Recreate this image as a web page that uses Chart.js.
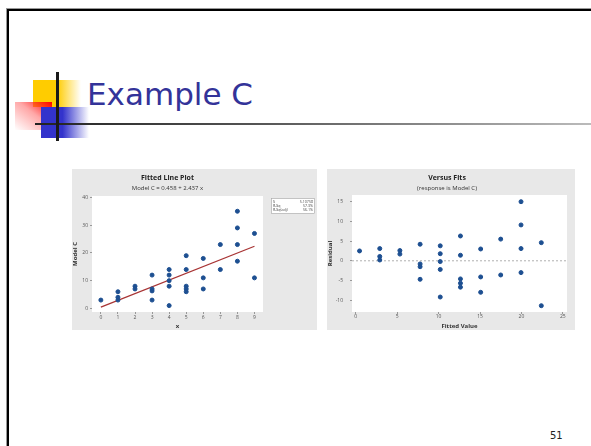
<!DOCTYPE html>
<html>
<head>
<meta charset="utf-8">
<script src="https://cdn.jsdelivr.net/npm/chart.js@4"></script>
<style>
  body { margin: 0; width: 591px; height: 446px; background: #fff; position: relative; overflow: hidden; }
  .frame { position: absolute; left: 7px; top: 9px; width: 700px; height: 600px;
           border-left: 2px solid #000; border-top: 2px solid #000;
           box-shadow: -1px -1px 0 #999; }
  .yellow { position: absolute; left: 33px; top: 80px; width: 48px; height: 27px;
            background: linear-gradient(to right, #ffcc00 0%, #ffcc00 50%, rgba(255,204,0,0) 100%); }
  .red { position: absolute; left: 15px; top: 102px; width: 37px; height: 28px;
         background: linear-gradient(to bottom left, #ff0000 0%, rgba(255,80,80,0.5) 45%, rgba(255,255,255,0) 100%); }
  .blue { position: absolute; left: 41px; top: 107px; width: 48px; height: 31px;
          background: linear-gradient(to right, #3333cc 0%, #3333cc 45%, rgba(51,51,204,0) 100%); }
  .vbar { position: absolute; left: 56px; top: 72px; width: 3px; height: 69px; background: #1a1a1a; }
  .rule { position: absolute; left: 35px; top: 123px; width: 556px; height: 2px;
          background: linear-gradient(to right, #222 0%, #555 40%, #bbb 100%); }
  .title { position: absolute; left: 87px; top: 76px; font-family: "DejaVu Sans", sans-serif;
           font-size: 31px; color: #333399; white-space: nowrap; }
  .pagenum { position: absolute; left: 550px; top: 430px; font-family: "DejaVu Sans", sans-serif;
             font-size: 10px; color: #222; }
  canvas { position: absolute; background: #e8e8e8; }
</style>
</head>
<body>
<div class="frame"></div>
<div class="yellow"></div>
<div class="red"></div>
<div class="blue"></div>
<div class="rule"></div>
<div class="vbar"></div>
<div class="title">Example C</div>
<div class="pagenum">51</div>

<canvas id="fitPlot" width="245" height="161" style="left:72px; top:169px;"></canvas>
<canvas id="residPlot" width="248" height="161" style="left:327px; top:169px;"></canvas>

<script>
// data
const xValues =      [0, 1, 1, 1, 2, 2, 3, 3, 3, 3, 4, 4, 4, 4, 4, 5, 5, 5, 5, 5, 6, 6, 6, 7, 7, 8, 8, 8, 8, 9, 9];
const modelCValues = [3, 6, 4, 3, 8, 7, 12, 7, 6.3, 3, 14, 12, 10, 8, 1, 19, 14, 8, 7, 6, 18, 11, 7, 23, 14, 35, 29, 23, 17, 27, 11];

const fittedValues = [0.46, 2.9, 2.9, 2.9, 5.33, 5.33, 7.77, 7.77, 7.77, 7.77, 10.2, 10.2, 10.2, 10.2, 10.2,
                      12.64, 12.64, 12.64, 12.64, 12.64, 15.08, 15.08, 15.08, 17.5, 17.5, 19.95, 19.95, 19.95, 19.95, 22.4, 22.4];
const residuals =    [2.5, 3.1, 1.1, 0.2, 2.6, 1.7, 4.2, -0.8, -1.5, -4.7, 3.8, 1.8, -0.2, -2.2, -9.2,
                      6.3, 1.4, -4.6, -5.7, -6.7, 3.0, -4.1, -8.0, 5.5, -3.6, 15.0, 9.1, 3.1, -3.0, 4.6, -11.4];

const fitCoef = [0.458, 2.437];   // intercept, slope
const fitXRange = [0, 9];

const fitXTicks = [0, 1, 2, 3, 4, 5, 6, 7, 8, 9];
const fitYTicks = [0, 10, 20, 30, 40];
const residXTicks = [0, 5, 10, 15, 20, 25];
const residYTicks = [-10, -5, 0, 5, 10, 15];

const statLabels = ['S', 'R-Sq', 'R-Sq(adj)'];
const statValues = ['5.10758', '57.3%', '56.1%'];

const FONT = '"Open Sans", "Noto Sans", sans-serif';
const POINT = '#1d4f91';

const whiteArea = {
    id: 'whiteArea',
    beforeDraw(chart) {
        const a = chart.chartArea, ctx = chart.ctx;
        ctx.save();
        ctx.fillStyle = '#ffffff';
        ctx.fillRect(a.left, a.top, a.right - a.left, a.bottom - a.top);
        ctx.restore();
    }
};

const statsBox = {
    id: 'statsBox',
    afterDraw(chart) {
        const ctx = chart.ctx;
        const x0 = 199, y0 = 29, w = 44, h = 16;
        ctx.save();
        ctx.fillStyle = '#fff';
        ctx.fillRect(x0, y0, w, h);
        ctx.strokeStyle = '#aaa';
        ctx.lineWidth = 0.7;
        ctx.strokeRect(x0 + 0.5, y0 + 0.5, w - 1, h - 1);
        ctx.font = '3.6px ' + FONT;
        ctx.fillStyle = '#444';
        ctx.textBaseline = 'middle';
        statLabels.forEach(function(lab, i) {
            let y = y0 + 3.5 + i * 4.4;
            ctx.textAlign = 'left';
            ctx.fillText(lab, x0 + 2, y);
            ctx.textAlign = 'right';
            ctx.fillText(statValues[i], x0 + w - 2, y);
        });
        ctx.restore();
    }
};

const zeroLine = {
    id: 'zeroLine',
    beforeDatasetsDraw(chart) {
        const a = chart.chartArea, ctx = chart.ctx;
        const y = chart.scales.y.getPixelForValue(0);
        ctx.save();
        ctx.strokeStyle = '#b0b0b0';
        ctx.lineWidth = 1;
        ctx.setLineDash([2, 2]);
        ctx.beginPath();
        ctx.moveTo(a.left, y);
        ctx.lineTo(a.right, y);
        ctx.stroke();
        ctx.restore();
    }
};

function axis(ticks, min, max, title, width, height, pad) {
    return {
        type: 'linear',
        min: min,
        max: max,
        afterBuildTicks: function(s) { s.ticks = ticks.map(v => ({ value: v })); },
        afterFit: function(s) {
            if (width !== null) s.width = width;
            if (height !== null) s.height = height;
        },
        border: { display: false },
        grid: { drawOnChartArea: false, drawTicks: true, tickLength: 2, color: '#999' },
        ticks: { font: { family: FONT, size: 5 }, color: '#555', padding: pad, maxRotation: 0 },
        title: { display: true, text: title, color: '#333', padding: 0,
                 font: { family: FONT, size: 6, weight: 'bold' } }
    };
}

function titles(main, sub, bottom) {
    return {
        legend: { display: false },
        tooltip: { enabled: false },
        title: { display: true, text: main, color: '#222', padding: { top: 5, bottom: 0 },
                 font: { family: FONT, size: 7, weight: 'bold' } },
        subtitle: { display: true, text: sub, color: '#333', padding: { top: 2, bottom: bottom },
                    font: { family: FONT, size: 6 } }
    };
}

// Fitted line plot
new Chart(document.getElementById('fitPlot').getContext('2d'), {
    type: 'scatter',
    data: {
        datasets: [
            {
                data: xValues.map((x, i) => ({ x: x, y: modelCValues[i] })),
                backgroundColor: POINT,
                borderColor: POINT,
                pointRadius: 2,
                order: 1
            },
            {
                type: 'line',
                data: fitXRange.map(x => ({ x: x, y: fitCoef[0] + fitCoef[1] * x })),
                borderColor: '#a83434',
                borderWidth: 1.3,
                pointRadius: 0,
                order: 2
            }
        ]
    },
    options: {
        responsive: false,
        animation: false,
        layout: { padding: { left: 0, right: 54, top: 0, bottom: 0 } },
        plugins: titles('Fitted Line Plot', 'Model C = 0.458 + 2.437 x', 4.4),
        scales: {
            x: axis(fitXTicks, -0.52, 9.5, 'x', null, 18, 1),
            y: axis(fitYTicks, -1.3, 40.5, 'Model C', 20, null, 2)
        }
    },
    plugins: [whiteArea, statsBox]
});

// Residuals versus fits
new Chart(document.getElementById('residPlot').getContext('2d'), {
    type: 'scatter',
    data: {
        datasets: [{
            data: fittedValues.map((f, i) => ({ x: f, y: residuals[i] })),
            backgroundColor: POINT,
            borderColor: POINT,
            pointRadius: 2
        }]
    },
    options: {
        responsive: false,
        animation: false,
        layout: { padding: { left: 0, right: 8, top: 0, bottom: 0 } },
        plugins: titles('Versus Fits', '(response is Model C)', 3.4),
        scales: {
            x: axis(residXTicks, -0.45, 25.5, 'Fitted Value', null, 18, 0),
            y: axis(residYTicks, -13, 16.7, 'Residual', 25, null, 7)
        }
    },
    plugins: [whiteArea, zeroLine]
});
</script>
</body>
</html>
